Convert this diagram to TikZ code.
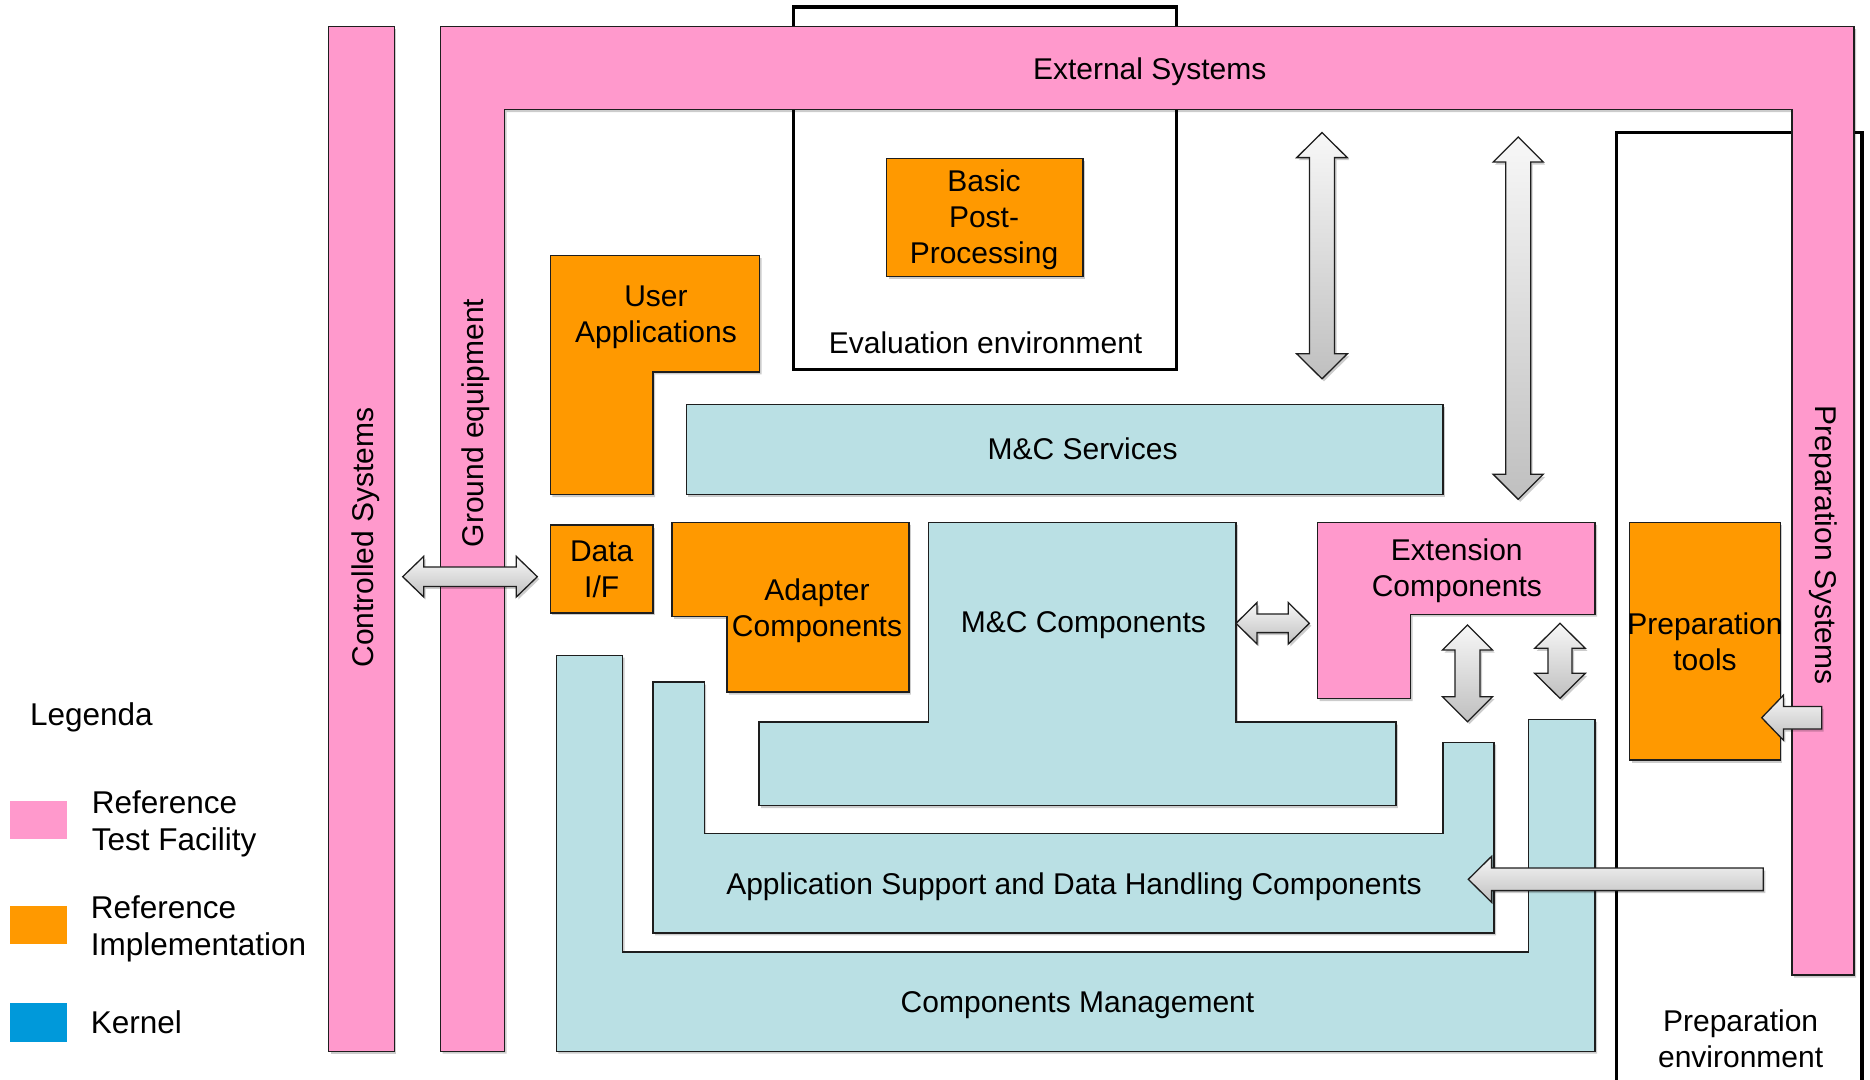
\documentclass[tikz,border=0pt]{standalone}
\usepackage{fontspec}
\setmainfont{Liberation Sans}
\definecolor{pinkc}{RGB}{255,153,204}
\definecolor{orangec}{RGB}{255,153,0}
\definecolor{tealc}{RGB}{186,224,228}
\definecolor{kernelc}{RGB}{0,153,218}
\definecolor{edgec}{RGB}{30,30,30}
\tikzset{
  shdw/.style={preaction={fill=black,opacity=0.2,transform canvas={shift={(2pt,-2.5pt)}}}},
  blk/.style={draw=edgec,line width=1.4pt,line join=miter,shdw},
  rtf/.style={blk,fill=pinkc},
  rimpl/.style={blk,fill=orangec},
  kern/.style={blk,fill=tealc},
  envframe/.style={draw=black,line width=3.5pt},
  blockarr/.style={draw=edgec,line width=1.3pt,top color=gray!6,bottom color=gray!50,shdw},
  lbl/.style={font=\fontsize{30}{36}\selectfont,align=center,inner sep=0pt},
  leglbl/.style={font=\fontsize{31.5}{37.4}\selectfont,align=left,inner sep=0pt,anchor=base west},
}
\newcommand\vdarrow[5]{%
  \path[blockarr] (#1,#2) -- (#1+#4,#2+25) -- (#1+#5,#2+25) -- (#1+#5,#3-25) -- (#1+#4,#3-25) -- (#1,#3)
    -- (#1-#4,#3-25) -- (#1-#5,#3-25) -- (#1-#5,#2+25) -- (#1-#4,#2+25) -- cycle;}
\newcommand\hdarrow[5]{%
  \path[blockarr] (#2,#1) -- (#2+21,#1-#4) -- (#2+21,#1-#5) -- (#3-21,#1-#5) -- (#3-21,#1-#4) -- (#3,#1)
    -- (#3-21,#1+#4) -- (#3-21,#1+#5) -- (#2+21,#1+#5) -- (#2+21,#1+#4) -- cycle;}
\newcommand\lsarrow[6]{%
  \path[blockarr] (#2,#1) -- (#2+#6,#1-#4) -- (#2+#6,#1-#5) -- (#3,#1-#5) -- (#3,#1+#5)
    -- (#2+#6,#1+#5) -- (#2+#6,#1+#4) -- cycle;}
\begin{document}
\begin{tikzpicture}[x=1pt,y=-1pt]
\useasboundingbox (0,0) rectangle (1870,1079);
\fill[white] (0,0) rectangle (1870,1079);
% environment frames
\draw[envframe] (793.7,6.9) rectangle (1176.5,369.5);
\draw[envframe] (1616.7,1095) -- (1616.7,132.7) -- (1862,132.7) -- (1862,1095);
% reference test facility (pink)
\path[rtf] (328.6,26.5) rectangle (394.2,1051.2);
\path[rtf] (440.7,26.5) -- (1854,26.5) -- (1854,975) -- (1792,975) -- (1792,109.5) -- (504.5,109.5) -- (504.5,1051.2) -- (440.7,1051.2) -- cycle;
% reference implementation (orange)
\path[rimpl] (886.7,158.4) rectangle (1082.9,276.5);
\path[rimpl] (550.4,255.5) -- (759.7,255.5) -- (759.7,371.9) -- (653,371.9) -- (653,494.5) -- (550.4,494.5) -- cycle;
\path[rimpl] (550.4,525.1) rectangle (653,612.9);
\path[rimpl] (672,522.4) -- (908.8,522.4) -- (908.8,692) -- (726.9,692) -- (726.9,616.3) -- (672,616.3) -- cycle;
\path[rimpl] (1629.5,522.4) rectangle (1780.3,760);
% kernel (teal)
\path[kern] (686.4,404.6) rectangle (1443,494.5);
\path[kern] (928.4,522.4) -- (1235.8,522.4) -- (1235.8,722) -- (1395.8,722) -- (1395.8,805.7) -- (759.1,805.7) -- (759.1,722) -- (928.4,722) -- cycle;
\path[rtf] (1317.7,522.4) -- (1595,522.4) -- (1595,614.2) -- (1410.7,614.2) -- (1410.7,698.5) -- (1317.7,698.5) -- cycle;
\path[kern] (653,682) -- (704.2,682) -- (704.2,833.2) -- (1442.8,833.2) -- (1442.8,742.2) -- (1494,742.2) -- (1494,932.9) -- (653,932.9) -- cycle;
\path[kern] (556.4,655.2) -- (622.5,655.2) -- (622.5,951.8) -- (1528.3,951.8) -- (1528.3,719.3) -- (1595,719.3) -- (1595,1051.2) -- (556.4,1051.2) -- cycle;
% block arrows
\vdarrow{1322}{132.6}{378.8}{25.3}{12.5}
\vdarrow{1518.2}{137}{499.3}{25}{12.5}
\vdarrow{1467.5}{625}{721.7}{25}{12.5}
\vdarrow{1560}{623.3}{698.3}{25.3}{12}
\hdarrow{576.7}{402.7}{537.3}{20.3}{9.7}
\hdarrow{623.3}{1236}{1309.3}{20.7}{9.3}
\lsarrow{879.3}{1468.3}{1763.3}{23}{11.3}{23.3}
\lsarrow{717.7}{1761.7}{1821.7}{22.5}{11.3}{21.7}
% legend squares
\fill[pinkc] (10,801) rectangle (66.7,839);
\fill[orangec] (10,906) rectangle (66.7,943.7);
\fill[kernelc] (10,1003.3) rectangle (66.7,1041.7);
% labels
\node[lbl,anchor=base] (ext) at (1149.7,79.9) {External Systems};
\node[lbl,anchor=base,rotate=90] (ctl) at (373,537.5) {Controlled Systems};
\node[lbl,anchor=base,rotate=90] (gnd) at (483,423) {Ground equipment};
\node[lbl,anchor=base,rotate=-90] (prs) at (1815,545) {Preparation Systems};
\node[lbl,anchor=base] (bpp) at (984,263.4) {Basic\\Post-\\Processing};
\node[lbl,anchor=base] (eval) at (985.6,353) {Evaluation environment};
\node[lbl,anchor=base] (ua) at (656,342.6) {User\\Applications};
\node[lbl,anchor=base] (mcs) at (1082.6,459.7) {M\&C Services};
\node[lbl,anchor=base] (dif) at (601.7,597.8) {Data\\I/F};
\node[lbl,anchor=base] (adp) at (817,636.3) {Adapter\\Components};
\node[lbl,anchor=base] (mcc) at (1083.4,632.8) {M\&C Components};
\node[lbl,anchor=base] (extc) at (1456.8,596.7) {Extension\\Components};
\node[lbl,anchor=base] (prt) at (1705,670) {Preparation\\tools};
\node[lbl,anchor=base] (asd) at (1074,894.1) {Application Support and Data Handling Components};
\node[lbl,anchor=base] (cm) at (1077.5,1012.7) {Components Management};
\node[lbl,anchor=base] (pre) at (1740.6,1067.7) {Preparation\\environment};
\node[leglbl] (leg) at (29.8,725.6) {Legenda};
\node[leglbl] (l1) at (91.7,850.7) {Reference\\Test Facility};
\node[leglbl] (l2) at (90.7,955.7) {Reference\\Implementation};
\node[leglbl] (l3) at (90.7,1033.3) {Kernel};
\end{tikzpicture}
\end{document}
